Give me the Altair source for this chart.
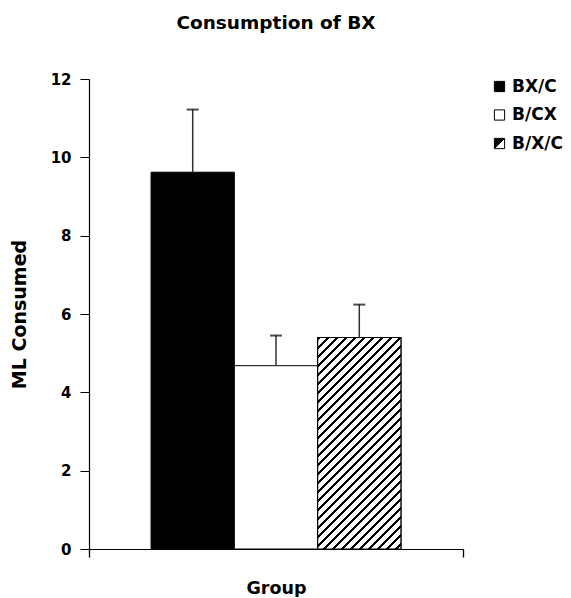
import math
import altair as alt
import pandas as pd

# ---- data ----
groups = ["BX/C", "B/CX", "B/X/C"]
means = [9.62, 4.68, 5.40]
errors = [1.60, 0.77, 0.84]
positions = [1, 2, 3]

FONT = "DejaVu Sans"
W, H = 374, 470
Y_MAX = 12
X_DOMAIN = [-0.245, 4.245]
X_END_TICKS = [X_DOMAIN[0] + 1e-6, X_DOMAIN[1] - 1e-6]
BAR_W = W / (X_DOMAIN[1] - X_DOMAIN[0])

df = pd.DataFrame({"group": groups, "mean": means, "err": errors, "pos": positions})
df["upper"] = df["mean"] + df["err"]

# ---- diagonal hatch drawn as a hard-stop linear gradient ----
hatch_h = means[2] / Y_MAX * H
r = BAR_W / hatch_h
k = (1 + r) / (1 + r * r)
period = 9.0
n = (BAR_W + hatch_h) / period
black_frac = 0.40
stops = []
for i in range(int(math.ceil(n)) + 1):
    a = min(i / n, 1.0)
    b = min((i + black_frac) / n, 1.0)
    c = min((i + 1) / n, 1.0)
    stops += [
        alt.GradientStop(offset=a, color="black"),
        alt.GradientStop(offset=b, color="black"),
        alt.GradientStop(offset=b, color="white"),
        alt.GradientStop(offset=c, color="white"),
    ]
    if c >= 1.0:
        break
hatch_fill = alt.LinearGradient(gradient="linear", stops=stops, x1=0, y1=0, x2=r * k, y2=k)

legend_hatch = alt.ExprRef(
    "{gradient: 'linear', x1: 0, y1: 0, x2: 1, y2: 1, stops: ["
    "{offset: 0, color: 'black'}, {offset: 0.5, color: 'black'},"
    "{offset: 0.5, color: 'white'}, {offset: 1, color: 'white'}]}"
)

base = alt.Chart(df)

x_enc = alt.X(
    "pos:Q",
    scale=alt.Scale(domain=X_DOMAIN, nice=False, zero=False, padding=0),
    axis=alt.Axis(
        values=X_END_TICKS, labels=False, ticks=True, tickSize=8, grid=False,
        title="Group", titleFont=FONT, titleFontSize=17.5, titleFontWeight="bold",
        titleColor="black", titleY=44, titleBaseline="alphabetic",
        domainColor="black", tickColor="black", tickWidth=1.3,
    ),
)
y_enc = alt.Y(
    "mean:Q",
    scale=alt.Scale(domain=[0, Y_MAX], nice=False, padding=0),
    axis=alt.Axis(
        values=[0, 2, 4, 6, 8, 10, 12], tickSize=9, labelPadding=9, grid=False,
        labelFont=FONT, labelFontSize=15, labelFontWeight="bold", labelColor="black",
        title="ML Consumed", titleFont=FONT, titleFontSize=19, titleFontWeight="bold",
        titleColor="black", titleX=-63.5, titleBaseline="alphabetic",
        domainColor="black", tickColor="black", domainWidth=1.2,
    ),
)

bars = base.mark_bar(width=BAR_W, stroke="black", strokeWidth=1).encode(
    x=x_enc,
    y=y_enc,
    fill=alt.Fill(
        "group:N",
        scale=alt.Scale(domain=groups, range=["black", "white", legend_hatch]),
        legend=alt.Legend(
            title=None, orient="none", legendX=402, legendY=-1, padding=0,
            symbolType="square", symbolSize=105, symbolStrokeColor="black",
            symbolStrokeWidth=1, labelFont=FONT, labelFontSize=17,
            labelFontWeight="bold", labelColor="black", labelOffset=4,
            rowPadding=10.5, labelLimit=200,
        ),
    ),
)

hatch = base.transform_filter(alt.datum.group == "B/X/C").mark_bar(
    width=BAR_W, fill=hatch_fill, stroke="black", strokeWidth=1.2
).encode(x="pos:Q", y="mean:Q")

stems = base.mark_rule(color="#333333", strokeWidth=1.5).encode(
    x="pos:Q", y="mean:Q", y2="upper:Q"
)
caps = base.mark_tick(orient="horizontal", size=12, thickness=2, color="black").encode(
    x="pos:Q", y="upper:Q"
)

chart = (
    alt.layer(bars, hatch, stems, caps)
    .properties(
        width=W,
        height=H,
        title=alt.TitleParams(
            "Consumption of BX", font=FONT, fontSize=18.5, fontWeight="bold",
            color="black", offset=40, anchor="middle",
        ),
        padding={"left": 81, "top": 71, "right": 100, "bottom": 48},
        autosize=alt.AutoSizeParams(type="none"),
    )
    .configure_view(stroke=None)
)

chart.save("out.html", embed_options={"renderer": "svg", "actions": False})
